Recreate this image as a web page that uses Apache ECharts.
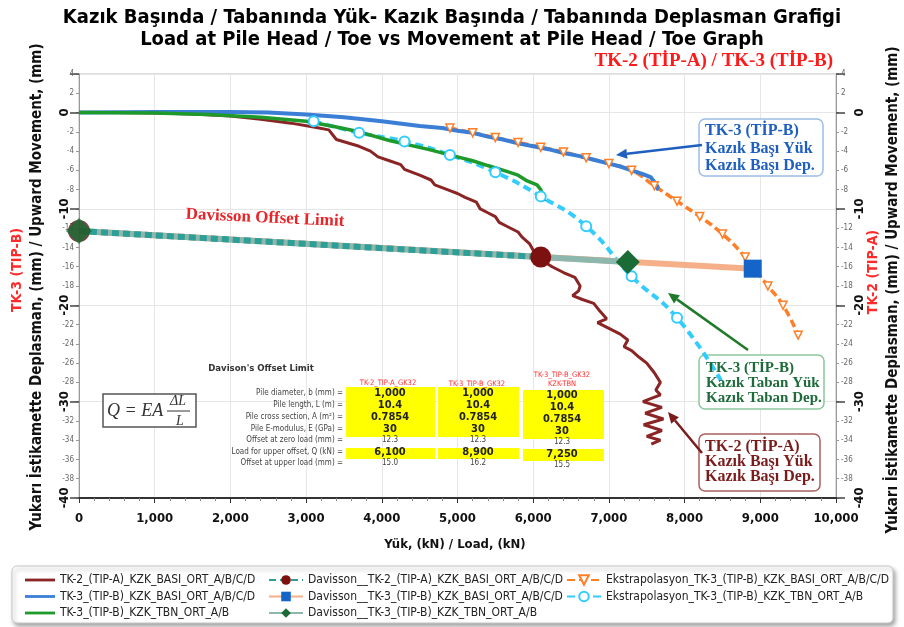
<!DOCTYPE html>
<html>
<head>
<meta charset="utf-8">
<script src="https://cdn.jsdelivr.net/npm/echarts@6/dist/echarts.min.js"></script>
<style>
  html, body { margin: 0; padding: 0; background: #fff; }
  #chart { width: 904px; height: 627px; }
</style>
</head>
<body>
<div id="chart"></div>
<script>
// TK-2 (TIP-A) kazik basi yuk / deplasman
var tk2BasiLoad = [0, 500, 1000, 1500, 2000, 2400, 2800, 3100, 3300, 3350, 3400, 3700, 3850, 3950, 4100, 4250, 4300, 4500, 4650, 4700, 4900, 5000, 5100, 5250, 5300, 5400, 5500, 5550, 5650, 5800, 5850, 5950, 6000, 6050, 6150, 6250, 6400, 6550, 6620, 6600, 6520, 6650, 6800, 6880, 6970, 6850, 7000, 7150, 7250, 7200, 7300, 7400, 7500, 7600, 7680, 7620, 7680, 7450, 7700, 7480, 7720, 7460, 7700, 7500, 7680, 7560];
var tk2BasiDisp = [0, 0, -0.05, -0.15, -0.35, -0.7, -1.1, -1.5, -1.8, -2.3, -2.8, -3.5, -4.0, -4.6, -5.0, -5.4, -5.9, -6.5, -7.0, -7.5, -8.1, -8.4, -8.8, -9.3, -10.0, -10.4, -10.8, -11.4, -11.8, -12.4, -12.9, -13.6, -14.3, -14.9, -15.5, -16.0, -16.6, -17.1, -18.0, -18.5, -19.0, -19.4, -19.8, -20.6, -21.4, -21.8, -22.4, -23.0, -23.6, -24.3, -24.7, -25.4, -26.0, -27.0, -28.0, -28.8, -29.3, -30.0, -30.6, -31.2, -31.8, -32.4, -33.0, -33.6, -34.0, -34.4];

// TK-3 (TIP-B) kazik basi
var tk3BasiLoad = [0, 1000, 2000, 2500, 3000, 3500, 4000, 4500, 4800, 5000, 5200, 5400, 5600, 5800, 6000, 6200, 6400, 6600, 6800, 7000, 7150, 7300, 7450, 7550, 7600, 7650, 7620];
var tk3BasiDisp = [0, 0.05, 0.05, 0, -0.2, -0.5, -0.9, -1.4, -1.6, -1.9, -2.1, -2.5, -2.8, -3.2, -3.5, -3.8, -4.2, -4.5, -4.9, -5.3, -5.6, -6.0, -6.4, -6.7, -7.2, -7.8, -8.0];

// TK-3 (TIP-B) kazik tabani
var tk3TbnLoad = [0, 1000, 1700, 2400, 3000, 3400, 3700, 4100, 4600, 5000, 5200, 5400, 5650, 5800, 5920, 6050, 6100, 6150];
var tk3TbnDisp = [0, -0.05, -0.2, -0.5, -0.9, -1.5, -2.0, -2.9, -3.8, -4.6, -5.0, -5.5, -6.1, -6.5, -7.1, -7.5, -8.0, -9.2];

// ekstrapolasyon
var extBasiLoad = [4900, 5200, 5500, 5800, 6100, 6400, 6700, 7000, 7300, 7600, 7900, 8200, 8500, 8800, 9100, 9300, 9500];
var extBasiDisp = [-1.6, -2.1, -2.6, -3.1, -3.6, -4.1, -4.7, -5.3, -6.0, -7.6, -9.2, -10.8, -12.6, -15.0, -18.0, -20.0, -23.1];
var extTbnLoad = [3100, 3700, 4300, 4900, 5500, 6100, 6700, 7300, 7900, 8480];
var extTbnDisp = [-0.9, -2.1, -3.0, -4.4, -6.2, -8.7, -11.8, -17.0, -21.3, -27.8];

// Davisson offset limit
var davZeroOffset = -12.3;
var davTk2 = [6100, -15.0];
var davTk3Basi = [8900, -16.2];
var davTk3Tbn = [7250, -15.5];

var xTicks = [0, 1000, 2000, 3000, 4000, 5000, 6000, 7000, 8000, 9000, 10000];

var seriesNames = [
  'TK-2_(TIP-A)_KZK_BASI_ORT_A/B/C/D',
  'TK-3_(TIP-B)_KZK_BASI_ORT_A/B/C/D',
  'TK-3_(TIP-B)_KZK_TBN_ORT_A/B',
  'Davisson__TK-2_(TIP-A)_KZK_BASI_ORT_A/B/C/D',
  'Davisson__TK-3_(TIP-B)_KZK_BASI_ORT_A/B/C/D',
  'Davisson__TK-3_(TIP-B)_KZK_TBN_ORT_A/B',
  'Ekstrapolasyon_TK-3_(TIP-B)_KZK_BASI_ORT_A/B/C/D',
  'Ekstrapolasyon_TK-3_(TIP-B)_KZK_TBN_ORT_A/B'
];

// tablo
var tableRowLabels = ['Pile diameter, b (mm) =', 'Pile length, L (m) =', 'Pile cross section, A (m\u00B2) =', 'Pile E-modulus, E (GPa) =', 'Offset at zero load (mm) =', 'Load for upper offset, Q (kN) =', 'Offset at upper load (mm) ='];
var tableCol1 = ['1,000', '10.4', '0.7854', '30', '12.3', '6,100', '15.0'];
var tableCol2 = ['1,000', '10.4', '0.7854', '30', '12.3', '8,900', '16.2'];
var tableCol3 = ['1,000', '10.4', '0.7854', '30', '12.3', '7,250', '15.5'];

var SANS = "'Liberation Sans Narrow', 'DejaVu Sans Condensed', 'Liberation Sans', sans-serif";
var SERIF = "'Liberation Serif', 'DejaVu Serif', serif";

function pairs(xs, ys) {
  return xs.map(function (x, i) { return [x, ys[i]]; });
}

function txt(x, y, text, opt) {
  var st = {
    text: text, x: 0, y: 0, fill: opt.color || '#000',
    font: (opt.style || '') + ' ' + (opt.weight || 'normal') + ' ' + (opt.size || 10) + 'px ' + (opt.family || SANS),
    textAlign: opt.align || 'center', textVerticalAlign: 'middle',
    align: opt.align || 'center', verticalAlign: 'middle'
  };
  return { type: 'text', rotation: opt.rotation || 0, x: x, y: y, style: st, z: 100 };
}

function box(x1, y1, x2, y2, stroke) {
  return { type: 'rect', shape: { x: x1, y: y1, width: x2 - x1, height: y2 - y1, r: 6 },
    style: { fill: 'rgba(255,255,255,0.9)', stroke: stroke, lineWidth: 1.5 }, z: 1 };
}

function arrow(x1, y1, x2, y2, color) {
  var a = Math.atan2(y2 - y1, x2 - x1), L = 11, W = 5;
  var bx = x2 - L * Math.cos(a), by = y2 - L * Math.sin(a);
  return [
    { type: 'line', shape: { x1: x1, y1: y1, x2: bx, y2: by }, style: { stroke: color, lineWidth: 2.5 }, z: 95 },
    { type: 'polygon', shape: { points: [[x2, y2], [bx + W * Math.sin(a), by - W * Math.cos(a)], [bx - W * Math.sin(a), by + W * Math.cos(a)]] },
      style: { fill: color }, z: 95 }
  ];
}

var chart = echarts.init(document.getElementById('chart'));

var gridLeft = 79, gridTop = 74, gridRight = 836, gridBottom = 498;

function yAxisMinor(pos) {
  return {
    type: 'value', position: pos, min: -40, max: 4, interval: 2,
    axisLine: { show: true, lineStyle: { color: '#999', width: 1 } },
    axisTick: { show: true, length: 3, lineStyle: { color: '#999' } },
    axisLabel: { fontSize: 8, color: '#666', margin: 5, fontFamily: SANS,
      formatter: function (v) { return v % 10 === 0 ? '' : v; } },
    splitLine: { show: false }
  };
}
function yAxisMajor(pos) {
  return {
    type: 'value', position: pos, min: -40, max: 4, interval: 10,
    axisLine: { show: false },
    axisTick: { show: true, length: 9, lineStyle: { color: '#444', width: 1.5 } },
    axisLabel: { fontSize: 13, fontWeight: 'bold', color: '#111', rotate: 90, margin: pos === 'left' ? 8 : 17, fontFamily: SANS,
      formatter: function (v) { return v % 10 === 0 ? v : ''; } },
    splitLine: { show: pos === 'left', lineStyle: { color: '#e6e6e6' } }
  };
}

var graphics = [];
// legend box
graphics.push({ type: 'rect', shape: { x: 12, y: 566, width: 881, height: 57, r: 5 },
  style: { fill: '#fff', stroke: '#c8c8c8', lineWidth: 1, shadowBlur: 4, shadowOffsetX: 2, shadowOffsetY: 3, shadowColor: 'rgba(0,0,0,0.35)' }, z: 0 });

// axis titles
graphics.push(txt(37, 287, 'Yukarı İstikamette Deplasman, (mm) / Upward Movement, (mm)', { weight: 'bold', size: 15, rotation: Math.PI / 2, color: '#111' }));
graphics.push(txt(17, 270, 'TK-3 (TIP-B)', { weight: 'bold', size: 14, rotation: Math.PI / 2, color: '#ff2a2a' }));
graphics.push(txt(893, 290, 'Yukarı İstikamette Deplasman, (mm) / Upward Movement, (mm)', { weight: 'bold', size: 15, rotation: Math.PI / 2, color: '#111' }));
graphics.push(txt(873, 272, 'TK-2 (TIP-A)', { weight: 'bold', size: 14, rotation: Math.PI / 2, color: '#ff2a2a' }));
graphics.push(txt(455, 545, 'Yük, (kN) / Load, (kN)', { weight: 'bold', size: 13, color: '#111' }));
graphics.push(txt(833, 61, 'TK-2 (TİP-A) / TK-3 (TİP-B)', { weight: 'bold', size: 19, family: SERIF, align: 'right', color: '#ff1a1a' }));

// Davisson yazisi
graphics.push(txt(265, 218, 'Davisson Offset Limit', { weight: 'bold', size: 17, family: SERIF, color: '#e8262a', rotation: -0.045 }));

// etiket kutulari
graphics.push(box(699, 119, 823, 176, '#9dbde6'));
['TK-3 (TİP-B)', 'Kazık Başı Yük', 'Kazık Başı Dep.'].forEach(function (s, i) {
  graphics.push(txt(705, 131 + i * 17.5, s, { weight: 'bold', size: 16, family: SERIF, align: 'left', color: '#1f5fbf' }));
});
graphics = graphics.concat(arrow(702, 145, 616, 155, '#1f5fbf'));

graphics.push(box(699, 355, 824, 409, '#8cc79a'));
['TK-3 (TİP-B)', 'Kazık Taban Yük', 'Kazık Taban Dep.'].forEach(function (s, i) {
  graphics.push(txt(706, 368 + i * 15, s, { weight: 'bold', size: 15, family: SERIF, align: 'left', color: '#1d6b3a' }));
});
graphics = graphics.concat(arrow(748, 350, 668, 293, '#1f7a2a'));

graphics.push(box(699, 434, 820, 491, '#a86060'));
['TK-2 (TİP-A)', 'Kazık Başı Yük', 'Kazık Başı Dep.'].forEach(function (s, i) {
  graphics.push(txt(705, 447 + i * 15, s, { weight: 'bold', size: 16, family: SERIF, align: 'left', color: '#7b1c1c' }));
});
graphics = graphics.concat(arrow(702, 453, 668, 412, '#7b1c1c'));

// formul
graphics.push({ type: 'rect', shape: { x: 103, y: 394, width: 93, height: 33 }, style: { fill: '#fff', stroke: '#555', lineWidth: 1.5 }, z: 90 });
graphics.push(txt(107, 411, 'Q = EA', { style: 'italic', size: 18, family: SERIF, align: 'left', color: '#333' }));
graphics.push(txt(178, 401, 'ΔL', { style: 'italic', size: 14, family: SERIF, color: '#333' }));
graphics.push({ type: 'line', shape: { x1: 167, y1: 411, x2: 190, y2: 411 }, style: { stroke: '#333', lineWidth: 1 }, z: 95 });
graphics.push(txt(180, 421, 'L', { style: 'italic', size: 14, family: SERIF, color: '#333' }));

// tablo
graphics.push(txt(261, 369, "Davison's Offset Limit", { weight: 'bold', size: 9.5, color: '#333' }));
var yellowBlocks = [[346, 387, 435, 437], [346, 448, 435, 459], [438, 387, 519, 437], [438, 448, 519, 459], [523, 390, 604, 439], [523, 449, 604, 461]];
yellowBlocks.forEach(function (b) {
  graphics.push({ type: 'rect', shape: { x: b[0], y: b[1], width: b[2] - b[0], height: b[3] - b[1] }, style: { fill: '#ffff00' }, z: 80 });
});
var rowY = [393, 405, 417, 429, 440, 452, 463];
tableRowLabels.forEach(function (s, i) {
  graphics.push(txt(343, rowY[i], s, { size: 8, align: 'right', color: '#444' }));
});
graphics.push(txt(388, 383, 'TK-2_TIP-A_GK32', { size: 7.5, color: '#ff3030' }));
graphics.push(txt(477, 384, 'TK-3_TIP-B_GK32', { size: 7.5, color: '#ff3030' }));
graphics.push(txt(562, 375, 'TK-3_TIP-B_GK32', { size: 7.5, color: '#ff3030' }));
graphics.push(txt(562, 384, 'KZK-TBN', { size: 7.5, color: '#ff3030' }));
[[tableCol1, 390, 0], [tableCol2, 478, 0], [tableCol3, 562, 2]].forEach(function (c) {
  c[0].forEach(function (v, i) {
    var small = (i === 4 || i === 6);
    graphics.push(txt(c[1], rowY[i] + c[2], v, { size: small ? 8 : 11, weight: small ? 'normal' : 'bold', color: small ? '#444' : '#222' }));
  });
});

var legendText = { fontSize: 12, color: '#222', fontFamily: SANS };
// duz cizgi ikonu (sadece cizgi)
var lineIcon = 'path://M0,0M0,4.6h30v2.8h-30zM30,12';

var extTbnData = pairs(extTbnLoad, extTbnDisp);
extTbnData[extTbnData.length - 1] = { value: extTbnData[extTbnData.length - 1], symbol: 'none' };

chart.setOption({
  animation: false,
  backgroundColor: '#fff',
  title: [
    { text: 'Kazık Başında / Tabanında Yük- Kazık Başında / Tabanında Deplasman Grafigi', left: 'center', top: 3,
      textStyle: { fontSize: 20, fontWeight: 'bold', color: '#000', fontFamily: SANS } },
    { text: 'Load at Pile Head / Toe vs Movement at Pile Head / Toe Graph', left: 'center', top: 25,
      textStyle: { fontSize: 20, fontWeight: 'bold', color: '#000', fontFamily: SANS } }
  ],
  grid: { left: gridLeft, top: gridTop, width: gridRight - gridLeft, height: gridBottom - gridTop,
    show: true, borderColor: '#bdbdbd', borderWidth: 1 },
  legend: [
    { orient: 'vertical', left: 20, top: 569, itemWidth: 30, itemHeight: 12, itemGap: 4.5, textStyle: legendText,
      data: seriesNames.slice(0, 3).map(function (n) { return { name: n, icon: lineIcon }; }) },
    { orient: 'vertical', left: 263, top: 569, itemWidth: 34, itemHeight: 12, itemGap: 4.5, textStyle: legendText,
      data: seriesNames.slice(3, 6) },
    { orient: 'vertical', left: 561, top: 569, itemWidth: 34, itemHeight: 12, itemGap: 4.5, textStyle: legendText,
      data: seriesNames.slice(6, 8) }
  ],
  xAxis: {
    type: 'value', min: xTicks[0], max: xTicks[xTicks.length - 1], interval: 1000,
    axisLine: { onZero: false, lineStyle: { color: '#333', width: 2 } },
    axisTick: { length: 5, lineStyle: { color: '#333' } },
    minorTick: { show: true, splitNumber: 5, length: 3, lineStyle: { color: '#888' } },
    axisLabel: { fontSize: 13, fontWeight: 'bold', color: '#111', margin: 14, fontFamily: SANS,
      formatter: function (v) { return v.toLocaleString('en-US'); } },
    splitLine: { show: true, lineStyle: { color: '#e6e6e6' } }
  },
  yAxis: [yAxisMinor('left'), yAxisMajor('left'), yAxisMinor('right'), yAxisMajor('right')],
  series: [
    { name: seriesNames[0], type: 'line', symbol: 'none', data: pairs(tk2BasiLoad, tk2BasiDisp),
      lineStyle: { color: '#8b2525', width: 3 }, itemStyle: { color: '#8b2525' } },
    { name: seriesNames[6], type: 'line', symbol: 'triangle', symbolRotate: 180, symbolSize: 8, smooth: true,
      data: pairs(extBasiLoad, extBasiDisp),
      lineStyle: { color: '#ff7f27', width: 3.5, type: [8, 4] }, itemStyle: { color: '#fff', borderColor: '#ff7f27', borderWidth: 1.5 } },
    { name: seriesNames[1], type: 'line', symbol: 'none', data: pairs(tk3BasiLoad, tk3BasiDisp),
      lineStyle: { color: '#3a7fd5', width: 4 }, itemStyle: { color: '#3a7fd5' } },
    { name: seriesNames[7], type: 'line', symbol: 'emptyCircle', symbolSize: 10, smooth: true,
      data: extTbnData,
      lineStyle: { color: '#33ccff', width: 4, type: [8, 5] }, itemStyle: { color: '#33ccff', borderWidth: 1 } },
    { name: seriesNames[2], type: 'line', symbol: 'none', data: pairs(tk3TbnLoad, tk3TbnDisp),
      lineStyle: { color: '#1e9a2a', width: 3.5 }, itemStyle: { color: '#1e9a2a' } },
    { name: seriesNames[4], type: 'line', symbol: 'rect', symbolSize: 18,
      data: [{ value: [0, davZeroOffset], symbol: 'none' }, davTk3Basi],
      lineStyle: { color: '#f6b089', width: 6 }, itemStyle: { color: '#1565c9' } },
    { name: seriesNames[5], type: 'line', symbol: 'diamond', symbolSize: 24,
      data: [{ value: [0, davZeroOffset], symbol: 'none' }, davTk3Tbn],
      lineStyle: { color: '#8db6ad', width: 6 }, itemStyle: { color: '#1a6b35' } },
    { name: seriesNames[3], type: 'line', symbol: 'circle', symbolSize: 21,
      data: [{ value: [0, davZeroOffset], symbol: 'none' }, davTk2],
      lineStyle: { color: '#2e9f97', width: 6, type: [7, 4] }, itemStyle: { color: '#7d1010' } },
    { type: 'scatter', symbol: 'circle', symbolSize: 22, data: [[0, davZeroOffset]], itemStyle: { color: '#5a1818' }, z: 4, silent: true },
    { type: 'scatter', symbol: 'diamond', symbolSize: 26, data: [[0, davZeroOffset]], itemStyle: { color: '#1a6b35' }, z: 5, silent: true }
  ],
  graphic: graphics
});
</script>
</body>
</html>
